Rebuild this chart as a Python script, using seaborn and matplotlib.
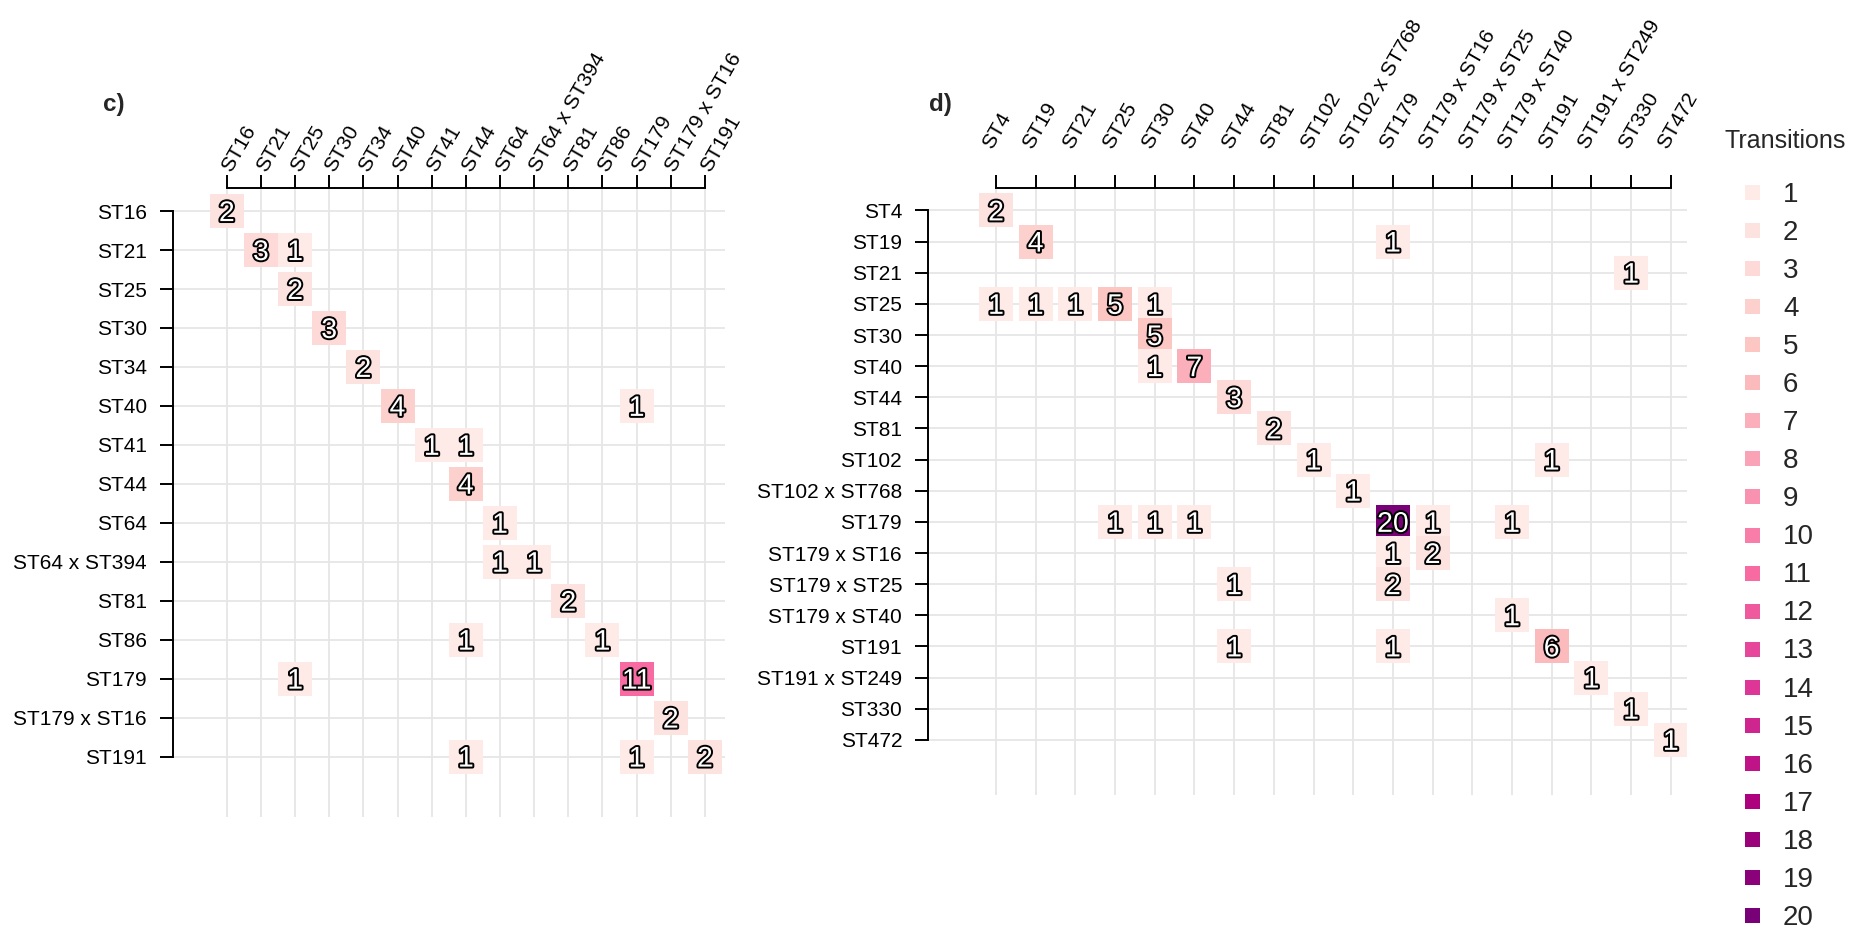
import numpy as np
import pandas as pd
import matplotlib
matplotlib.use("Agg")
import matplotlib.pyplot as plt
import seaborn as sns
from matplotlib import patheffects as pe
from matplotlib.colors import LinearSegmentedColormap, to_hex
from matplotlib.lines import Line2D

# ---------------- data ----------------
c_levels = ["ST16", "ST21", "ST25", "ST30", "ST34", "ST40", "ST41", "ST44", "ST64",
            "ST64 x ST394", "ST81", "ST86", "ST179", "ST179 x ST16", "ST191"]
c_row = ["ST16", "ST21", "ST21", "ST25", "ST30", "ST34", "ST40", "ST40", "ST41", "ST41",
         "ST44", "ST64", "ST64 x ST394", "ST64 x ST394", "ST81", "ST86", "ST86",
         "ST179", "ST179", "ST179 x ST16", "ST191", "ST191", "ST191"]
c_col = ["ST16", "ST21", "ST25", "ST25", "ST30", "ST34", "ST40", "ST179", "ST41", "ST44",
         "ST44", "ST64", "ST64", "ST64 x ST394", "ST81", "ST44", "ST86",
         "ST25", "ST179", "ST179 x ST16", "ST44", "ST179", "ST191"]
c_n = [2, 3, 1, 2, 3, 2, 4, 1, 1, 1,
       4, 1, 1, 1, 2, 1, 1,
       1, 11, 2, 1, 1, 2]

d_levels = ["ST4", "ST19", "ST21", "ST25", "ST30", "ST40", "ST44", "ST81", "ST102",
            "ST102 x ST768", "ST179", "ST179 x ST16", "ST179 x ST25", "ST179 x ST40",
            "ST191", "ST191 x ST249", "ST330", "ST472"]
d_row = ["ST4", "ST19", "ST19", "ST21",
         "ST25", "ST25", "ST25", "ST25", "ST25",
         "ST30", "ST40", "ST40", "ST44", "ST81", "ST102", "ST102", "ST102 x ST768",
         "ST179", "ST179", "ST179", "ST179", "ST179", "ST179",
         "ST179 x ST16", "ST179 x ST16", "ST179 x ST25", "ST179 x ST25", "ST179 x ST40",
         "ST191", "ST191", "ST191", "ST191 x ST249", "ST330", "ST472"]
d_col = ["ST4", "ST19", "ST179", "ST330",
         "ST4", "ST19", "ST21", "ST25", "ST30",
         "ST30", "ST30", "ST40", "ST44", "ST81", "ST102", "ST191", "ST102 x ST768",
         "ST25", "ST30", "ST40", "ST179", "ST179 x ST16", "ST179 x ST40",
         "ST179", "ST179 x ST16", "ST44", "ST179", "ST179 x ST40",
         "ST44", "ST179", "ST191", "ST191 x ST249", "ST330", "ST472"]
d_n = [2, 4, 1, 1,
       1, 1, 1, 5, 1,
       5, 1, 7, 3, 2, 1, 1, 1,
       1, 1, 1, 20, 1, 1,
       1, 2, 1, 2, 1,
       1, 1, 6, 1, 1, 1]

legend_values = list(range(1, 21))

# ---------------- style ----------------
sns.set_style("white")
plt.rcParams["font.family"] = ["Liberation Sans", "DejaVu Sans"]

rdpu = ["#FFF7F3", "#FDE0DD", "#FCC5C0", "#FA9FB5", "#F768A1",
        "#DD3497", "#AE017E", "#7A0177", "#49006A"]
cmap = LinearSegmentedColormap.from_list("rdpu", rdpu)
pal = {v: to_hex(cmap(p)) for v, p in zip(legend_values,
                                           np.linspace(0.07, 0.875, len(legend_values)))}

W, H = 1856, 930
fig = plt.figure(figsize=(W / 100, H / 100), dpi=100)


def px_axes(left, top, right, bottom):
    return fig.add_axes([left / W, 1 - bottom / H, (right - left) / W, (bottom - top) / H])


def panel(ax, levels, rows, cols, ns, xlim, ylim, x_va, x_pad):
    df = pd.DataFrame({"row": rows, "col": cols, "n": ns})
    df["xi"] = [levels.index(c) for c in df["col"]]
    df["yi"] = [levels.index(r) for r in df["row"]]
    sns.scatterplot(data=df, x="xi", y="yi", hue="n", palette=pal, marker="s",
                    s=(34 * 0.72) ** 2, linewidth=0, legend=False, ax=ax, zorder=3)
    for _, r in df.iterrows():
        ax.text(r["xi"], r["yi"], str(r["n"]), ha="center", va="center_baseline",
                fontsize=20.5, color="white", zorder=4,
                path_effects=[pe.withStroke(linewidth=2.8, foreground="black")])
    n = len(levels)
    ax.set_xlim(*xlim)
    ax.set_ylim(*ylim)
    ax.set_xticks(range(n))
    ax.set_yticks(range(n))
    ax.set_xticklabels(levels)
    ax.set_yticklabels(levels)
    ax.set_xlabel("")
    ax.set_ylabel("")
    ax.xaxis.tick_top()
    ax.grid(True, color="#E6E6E6", linewidth=1.3)
    ax.set_axisbelow(True)
    for s in ["bottom", "right"]:
        ax.spines[s].set_visible(False)
    for s in ["top", "left"]:
        ax.spines[s].set_visible(True)
        ax.spines[s].set_linewidth(1.4)
        ax.spines[s].set_color("black")
        ax.spines[s].set_bounds(0, n - 1)
    ax.tick_params(axis="y", left=True, right=False, length=9.4, width=1.4,
                   pad=9.5, labelsize=15, colors="black")
    ax.tick_params(axis="x", top=True, bottom=False, labeltop=True, labelbottom=False,
                   length=9.4, width=1.4, pad=x_pad, labelsize=15, colors="black")
    for lab in ax.get_xticklabels():
        lab.set_rotation(60)
        lab.set_ha("left")
        lab.set_va(x_va)
        lab.set_rotation_mode("anchor")
    ax.set_facecolor("white")


ax_c = px_axes(173.3, 187.7, 725, 817)
panel(ax_c, c_levels, c_row, c_col, c_n, (-1.566, 14.59), (15.55, -0.60), "center", 3.5)

ax_d = px_axes(928.3, 187.7, 1687, 795)
panel(ax_d, d_levels, d_row, d_col, d_n, (-1.705, 17.41), (18.77, -0.73), "bottom", 16.5)

fig.text(103 / W, 1 - 105 / H, "c)", fontsize=17.5, fontweight="bold", va="center", ha="left")
fig.text(929 / W, 1 - 104 / H, "d)", fontsize=17.5, fontweight="bold", va="center", ha="left")

# legend
handles = [Line2D([0], [0], marker="s", linestyle="none", markersize=15 * 0.72,
                  markerfacecolor=pal[v], markeredgewidth=0) for v in legend_values]
fig.text(1725 / W, 1 - 141 / H, "Transitions", fontsize=18, va="center", ha="left")
fig.legend(handles, [str(v) for v in legend_values], loc="upper left",
           bbox_to_anchor=(1725 / W, 1 - 181.5 / H), frameon=False, fontsize=20,
           handlelength=1.98, handletextpad=0.11, labelspacing=0.435,
           borderpad=0, borderaxespad=0)

fig.savefig("out.png", dpi=100, facecolor="white")
